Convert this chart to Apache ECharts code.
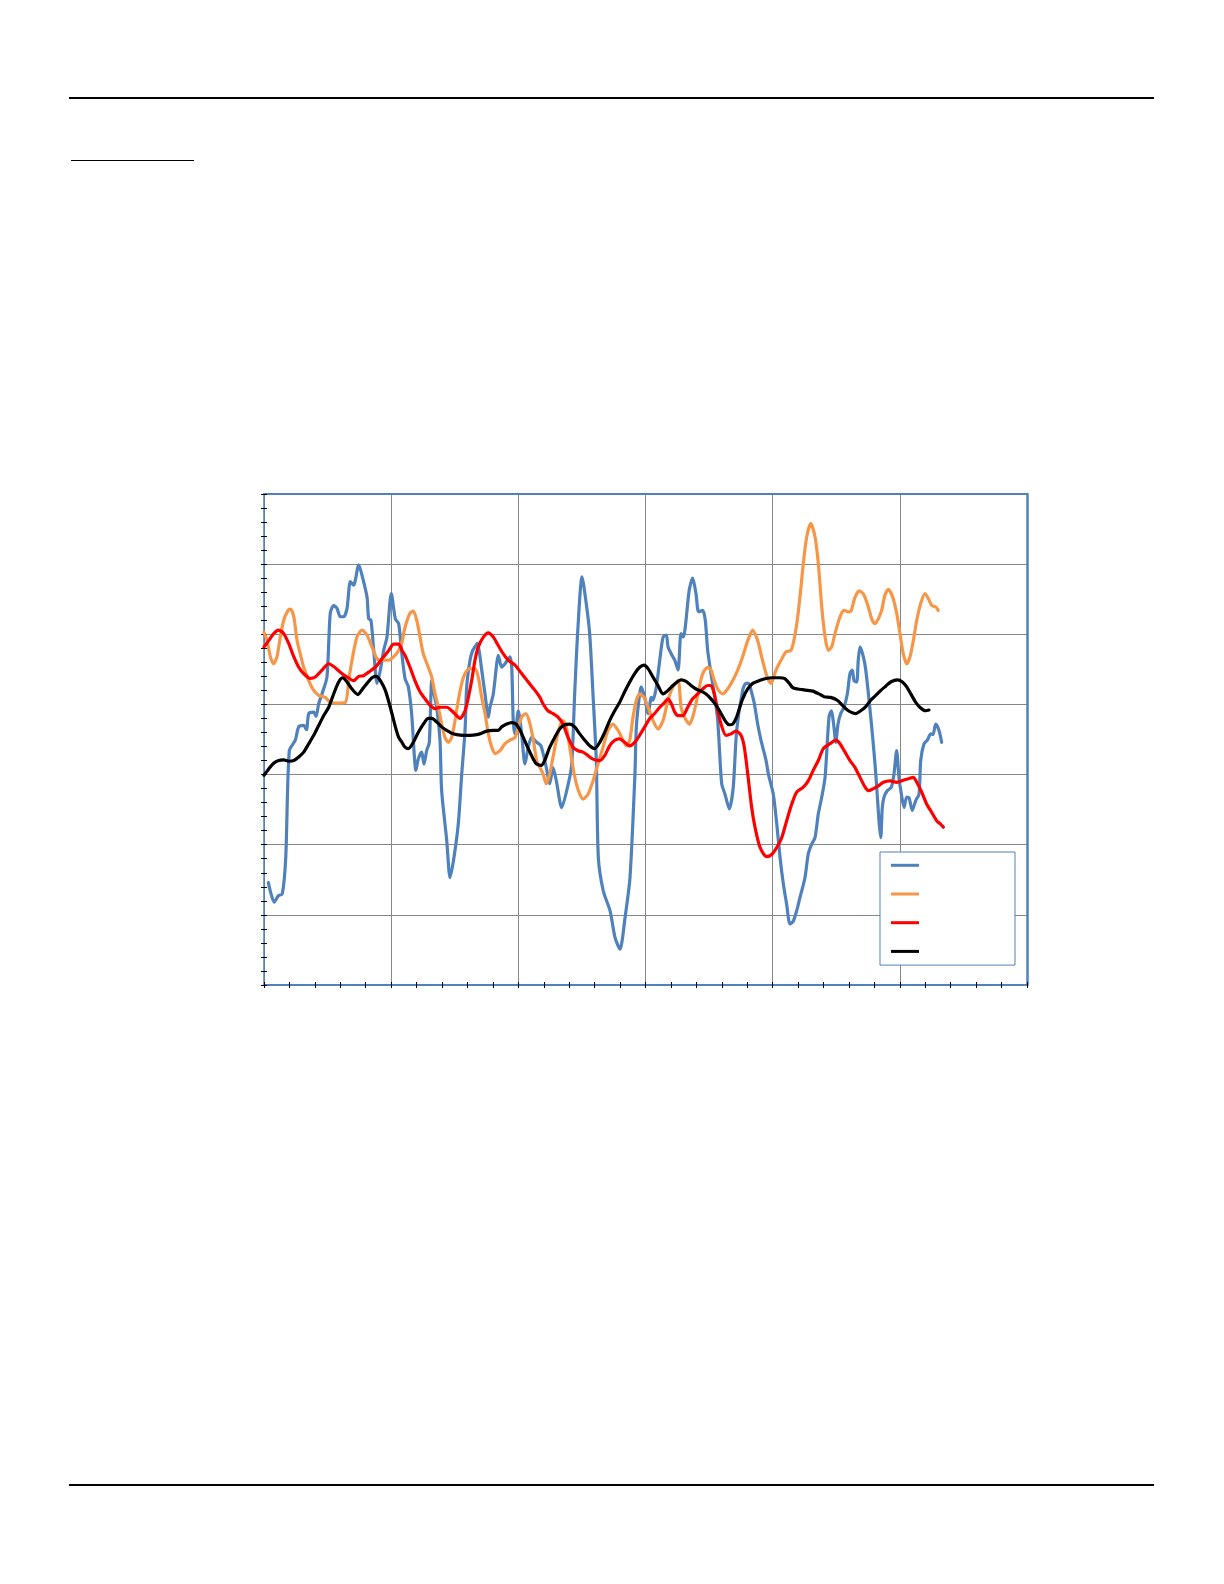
<!DOCTYPE html>
<html>
<head>
<meta charset="utf-8">
<script src="https://cdn.jsdelivr.net/npm/echarts/dist/echarts.min.js"></script>
<style>
html,body{margin:0;padding:0;background:#ffffff;}
#chart{width:1224px;height:1584px;}
</style>
</head>
<body>
<div id="chart"></div>
<script>
// ---- data (axis units: x 0..600, y 0..70) ----
const seriesNames = ['Series 1', 'Series 2', 'Series 3', 'Series 4'];
const seriesColors = ['#4F81BD', '#F79646', '#FF0000', '#000000'];

const blueData = [
[3.4,14.6],[8.1,11.8],[11.2,12.7],[14.4,13.0],[17.1,18.2],[19.9,33.4],[24.6,34.9],[27.3,36.8],[31.2,37.0],[33.4,36.4],
[35.2,38.7],[39.1,38.9],[40.9,38.3],[43.0,40.1],[45.6,41.5],[49.5,43.9],[52.1,53.0],[54.8,54.1],[57.4,53.7],[60.0,52.5],
[62.7,52.5],[65.3,53.7],[67.9,57.5],[70.5,57.0],[74.5,59.9],[77.1,58.4],[81.0,55.3],[82.3,52.2],[84.1,52.0],[86.3,47.7],
[88.9,43.0],[91.5,44.9],[94.1,47.7],[96.7,49.6],[100.1,55.8],[103.3,52.2],[105.9,51.5],[108.1,47.7],[110.9,43.7],[113.5,42.5],
[116.1,38.7],[119.5,30.6],[121.3,32.2],[124.0,33.2],[125.8,31.5],[127.9,33.4],[130.0,34.6],[131.9,43.4],[133.1,42.0],[135.8,39.6],
[138.4,34.9],[139.7,27.7],[143.7,20.6],[146.3,15.3],[149.4,18.2],[152.8,23.0],[155.5,30.1],[158.1,36.3],[159.4,42.5],[162.0,46.3],
[164.1,47.7],[165.9,48.2],[167.7,48.7],[169.3,47.5],[171.2,44.9],[173.8,41.5],[176.4,38.2],[177.7,39.6],[180.3,41.5],[183.0,45.8],
[184.2,47.0],[186.9,45.3],[189.5,45.8],[193.4,46.8],[194.8,45.3],[196.0,37.7],[197.4,35.8],[200.0,39.1],[202.6,35.8],[205.2,31.5],
[207.8,33.9],[210.5,35.3],[214.4,34.6],[217.8,34.1],[222.0,31.0],[224.7,28.7],[227.3,31.0],[229.9,29.1],[234.1,25.3],[239.3,28.7],
[242.0,31.5],[244.3,41.5],[246.9,51.0],[250.1,58.2],[253.4,54.4],[256.1,50.1],[258.7,41.5],[261.3,32.0],[262.9,18.2],[266.8,13.4],
[272.1,10.6],[276.0,6.8],[279.9,5.1],[283.9,9.6],[287.8,15.3],[291.7,30.1],[292.8,36.8],[295.4,41.5],[296.7,42.5],[299.4,41.0],
[302.0,38.7],[304.6,41.0],[305.9,40.6],[308.5,42.5],[311.2,46.3],[313.8,49.6],[316.4,49.9],[317.7,48.2],[320.3,47.2],[323.0,46.3],
[325.6,44.9],[327.9,50.1],[329.7,49.6],[334.4,56.3],[337.1,58.0],[339.7,55.8],[341.8,53.2],[345.0,53.4],[347.0,52.0],[348.9,47.7],
[351.5,44.4],[354.1,41.5],[356.8,37.7],[359.9,28.7],[362.5,27.2],[365.9,25.1],[369.0,28.2],[371.7,36.3],[376.4,42.0],[379.0,43.0],
[381.2,43.0],[383.0,42.0],[385.6,40.1],[388.2,37.2],[390.8,34.9],[394.8,32.0],[396.6,30.1],[400.5,27.2],[403.2,23.0],[405.8,18.2],
[408.4,14.4],[411.0,11.5],[413.6,8.7],[416.2,9.1],[418.9,10.6],[421.5,12.5],[425.4,15.3],[428.0,18.7],[430.7,20.1],[433.3,21.0],
[435.9,24.4],[438.6,26.8],[441.2,29.6],[444.3,38.2],[446.1,39.1],[448.2,36.8],[449.6,34.6],[451.4,37.2],[453.5,38.7],[456.1,39.6],
[458.7,41.5],[460.8,44.4],[462.6,44.9],[464.0,43.4],[466.1,43.2],[467.3,46.3],[468.7,48.2],[471.3,46.8],[473.2,44.9],[475.8,40.6],
[478.4,35.8],[481.1,30.1],[483.6,23.4],[485.0,21.0],[486.2,25.3],[487.6,26.8],[490.1,27.7],[493.3,28.2],[495.4,30.1],[497.5,33.4],
[499.3,29.6],[501.2,27.2],[503.3,25.3],[505.4,26.8],[507.2,26.7],[509.8,24.9],[512.5,26.3],[515.1,27.2],[516.4,32.0],[519.0,34.4],
[521.6,34.9],[524.3,35.8],[526.1,35.7],[528.2,37.2],[530.8,36.3],[532.9,34.6]
];

const orangeData = [
[0,50.3],[2.4,49.1],[5.0,46.8],[7.6,45.8],[10.2,46.8],[12.8,49.6],[15.5,52.0],[18.9,53.4],[20.8,53.6],[23.4,52.5],
[26.0,49.1],[28.5,47.2],[31.2,45.3],[35.2,43.4],[39.1,42.0],[43.0,41.3],[48.2,41.0],[52.1,40.3],[56.1,40.2],[63.9,40.3],
[66.6,43.4],[69.2,46.3],[73.1,49.6],[77.1,50.6],[81.0,49.9],[84.9,48.2],[88.9,46.5],[92.8,46.3],[98.1,46.3],[102.0,46.8],
[105.9,47.7],[108.5,48.9],[110.9,51.0],[114.8,53.0],[117.4,53.3],[120.1,52.0],[122.7,49.6],[125.3,47.2],[129.2,45.3],[131.9,43.9],
[134.5,41.5],[137.1,39.6],[139.7,37.2],[142.3,35.3],[144.9,34.6],[147.6,35.3],[150.2,37.7],[152.8,40.6],[155.5,43.0],[158.1,44.4],
[162.0,45.1],[165.9,45.1],[168.5,43.9],[171.2,41.0],[173.8,38.7],[176.4,35.8],[179.1,33.9],[181.7,33.0],[185.6,33.4],[189.5,34.4],
[193.4,34.9],[197.4,35.3],[200.0,36.8],[202.6,38.2],[206.0,38.7],[209.2,37.2],[211.8,34.9],[214.4,32.0],[217.0,31.0],[219.4,30.1],
[222.0,28.7],[224.7,30.1],[227.3,32.5],[229.9,34.9],[232.5,36.8],[235.1,37.7],[237.7,36.8],[240.4,33.9],[243.0,31.0],[245.6,28.7],
[248.3,27.2],[250.9,26.5],[254.8,27.2],[258.7,29.1],[262.6,31.5],[266.6,33.9],[270.5,36.3],[274.4,37.2],[278.4,36.3],[282.3,34.9],
[284.9,34.1],[287.6,34.9],[290.2,38.2],[292.8,40.6],[295.4,41.5],[298.8,41.0],[302.0,39.6],[305.9,37.7],[309.8,36.5],[313.8,37.7],
[317.7,40.6],[321.6,42.5],[325.6,43.4],[328.0,39.6],[330.6,38.2],[334.6,37.2],[337.1,38.2],[339.7,40.1],[342.4,42.5],[345.0,44.4],
[348.9,45.3],[351.5,44.9],[354.1,43.4],[356.8,42.2],[360.7,41.5],[364.6,42.2],[368.6,43.4],[372.5,44.9],[376.4,46.8],[380.4,49.1],
[384.3,50.6],[388.2,49.1],[390.8,47.2],[393.4,45.3],[396.1,43.7],[398.7,43.0],[402.6,44.9],[406.6,46.3],[410.5,47.5],[414.4,47.7],
[417.0,49.4],[419.7,52.5],[422.3,56.8],[424.1,60.1],[426.8,63.9],[429.9,65.8],[433.3,63.9],[435.9,60.1],[438.6,53.9],[441.2,49.6],
[443.8,47.7],[446.4,48.2],[449.0,50.1],[453.0,52.5],[456.1,53.4],[459.5,53.2],[461.6,53.3],[464.8,55.3],[468.2,56.2],[471.8,55.6],
[475.2,53.9],[477.9,52.2],[480.5,51.5],[483.1,52.2],[485.7,53.4],[488.3,55.6],[490.9,56.4],[494.4,55.3],[497.5,53.0],[500.1,50.1],
[502.7,47.2],[505.4,45.8],[508.0,46.8],[510.6,49.1],[513.3,52.0],[516.4,54.4],[519.8,55.8],[522.4,55.1],[525.1,54.1],[528.4,53.9],
[530.2,53.4]
];

const redData = [
[0,48.2],[3.7,49.1],[7.6,50.1],[11.6,50.6],[15.5,50.1],[19.4,48.7],[23.4,46.8],[27.3,45.3],[31.2,44.4],[36.4,43.7],
[40.3,43.9],[45.6,44.9],[50.9,45.8],[54.8,45.4],[60.0,44.6],[65.3,43.9],[70.5,43.4],[74.5,44.0],[78.4,44.1],[82.3,44.6],
[87.5,45.3],[92.8,46.5],[98.1,47.7],[102.0,48.6],[105.9,48.6],[108.5,47.7],[110.9,47.0],[114.8,45.3],[118.7,43.4],[122.7,41.8],
[126.6,40.8],[130.5,39.9],[134.5,39.4],[138.4,39.6],[143.7,39.6],[147.6,39.1],[151.5,38.4],[154.1,38.0],[158.1,39.1],[160.7,41.0],
[163.3,43.4],[165.9,46.3],[168.5,48.2],[172.5,49.6],[176.4,50.2],[180.3,49.6],[184.2,48.4],[188.2,47.2],[192.1,46.3],[197.4,45.6],
[202.6,44.4],[207.8,43.2],[213.1,42.0],[217.0,41.0],[219.4,40.1],[223.3,39.1],[227.3,38.7],[231.2,38.2],[235.1,37.2],[239.1,35.3],
[243.0,33.9],[246.9,33.4],[250.9,33.2],[254.8,32.7],[258.7,32.2],[264.0,32.0],[267.9,32.7],[271.8,34.1],[275.8,34.9],[279.7,35.1],
[283.6,34.6],[287.6,34.1],[291.5,34.6],[295.4,35.6],[299.4,36.8],[303.3,38.0],[307.2,38.7],[311.2,39.6],[315.1,40.3],[317.7,40.8],
[320.3,40.1],[323.0,38.9],[325.6,38.4],[329.3,38.4],[333.2,39.6],[337.1,40.8],[341.1,41.5],[345.0,42.2],[348.9,42.7],[351.5,42.7],
[354.1,41.5],[356.8,39.1],[359.4,37.2],[363.3,35.6],[367.2,35.8],[371.2,36.2],[375.1,35.6],[377.7,33.9],[380.4,30.1],[383.5,25.3],
[386.1,22.5],[390.1,19.6],[395.3,18.3],[399.2,18.6],[403.2,19.6],[407.1,21.0],[411.0,23.4],[415.0,25.8],[418.9,27.5],[424.1,28.2],
[428.0,29.1],[431.9,30.6],[435.9,32.0],[439.8,33.7],[445.1,34.4],[449.8,34.9],[452.9,34.4],[456.9,33.2],[460.8,32.0],[464.8,31.0],
[468.7,29.6],[472.7,28.2],[475.3,27.7],[479.2,28.0],[483.1,28.4],[487.1,28.9],[492.3,29.1],[497.5,28.9],[502.7,29.2],[506.7,29.4],
[510.6,29.6],[513.3,28.9],[517.2,27.5],[521.1,25.8],[525.1,24.6],[529.0,23.4],[531.6,23.0],[534.2,22.5]
];

const blackData = [
[0,29.9],[3.7,30.8],[7.6,31.6],[11.6,32.0],[15.5,32.1],[19.4,31.9],[23.4,32.0],[27.3,32.5],[31.2,33.2],[35.2,34.4],
[39.1,35.6],[43.0,37.0],[46.9,38.4],[50.9,39.6],[54.8,41.5],[58.7,43.2],[61.9,43.8],[65.3,43.2],[69.2,42.2],[73.9,41.4],
[77.1,42.1],[81.0,43.0],[84.9,43.8],[88.1,44.0],[91.5,43.4],[95.4,42.0],[99.3,39.6],[103.3,36.8],[105.9,35.3],[108.5,34.6],
[110.9,33.9],[113.5,33.7],[117.4,34.6],[121.3,36.0],[125.3,37.2],[129.2,38.0],[131.9,38.0],[135.8,37.5],[139.7,36.8],[143.7,36.3],
[147.6,35.9],[151.5,35.7],[156.7,35.6],[162.0,35.6],[167.3,35.7],[171.2,35.9],[175.1,36.2],[180.3,36.3],[184.2,36.3],[186.9,36.8],
[190.9,37.2],[194.8,37.4],[198.2,37.2],[200.8,36.5],[203.9,35.3],[207.8,33.7],[211.8,32.2],[214.4,31.5],[218.1,31.3],[220.7,32.0],
[224.7,33.9],[228.6,35.3],[232.5,36.5],[236.5,37.1],[240.4,37.2],[244.3,36.8],[248.3,35.8],[252.2,34.9],[256.1,34.1],[260.1,33.7],
[264.0,34.6],[267.9,36.0],[271.8,37.7],[275.8,39.1],[279.7,40.3],[283.6,41.8],[287.6,43.2],[291.5,44.4],[295.4,45.3],[298.8,45.6],
[302.0,45.1],[305.9,43.9],[309.8,42.7],[313.8,41.5],[317.7,42.0],[321.6,42.7],[325.6,43.3],[328.0,43.5],[331.9,43.3],[335.8,42.7],
[339.7,42.2],[343.7,41.9],[347.6,41.5],[351.5,40.8],[355.5,39.9],[359.4,38.7],[363.3,37.5],[365.9,37.1],[368.6,37.2],[371.2,38.0],
[373.8,39.4],[376.4,40.8],[380.4,42.2],[384.3,43.0],[389.5,43.4],[394.8,43.7],[400.0,43.8],[405.2,43.8],[409.2,43.7],[413.1,43.0],
[415.7,42.4],[419.7,42.2],[423.6,42.1],[427.6,42.0],[431.5,41.9],[436.4,41.5],[440.4,41.1],[445.6,41.0],[450.8,40.6],[454.7,39.9],
[458.7,39.2],[462.6,38.8],[465.3,38.7],[469.2,39.1],[473.2,39.7],[477.1,40.6],[481.1,41.3],[485.0,42.0],[488.9,42.6],[492.8,43.2],
[498.1,43.5],[502.0,43.2],[505.4,42.5],[508.6,41.5],[512.5,40.3],[516.4,39.5],[520.3,39.1],[522.9,39.2]
];

const allData = [blueData, orangeData, redData, blackData];

// ---- chart ----
const chart = echarts.init(document.getElementById('chart'), null, {renderer: 'canvas'});
const AXIS_BLUE = '#4F81BD';
const GRID_GRAY = '#878787';

function tickAxisX(inside) {
  return {
    type: 'value', min: 0, max: 600, interval: 100, position: 'bottom',
    axisLine: {show: false, onZero: false},
    axisTick: {show: true, inside: inside, length: 3, lineStyle: {color: '#000', width: 1}},
    minorTick: {show: true, splitNumber: 5, length: 3, lineStyle: {color: '#000', width: 1}},
    axisLabel: {show: false}, splitLine: {show: false}
  };
}
function tickAxisY(inside) {
  return {
    type: 'value', min: 0, max: 70, interval: 10, position: 'left',
    axisLine: {show: false, onZero: false},
    axisTick: {show: true, inside: inside, length: 3, lineStyle: {color: '#000', width: 1}},
    minorTick: {show: true, splitNumber: 5, length: 3, lineStyle: {color: '#000', width: 1}},
    axisLabel: {show: false}, splitLine: {show: false}
  };
}

const option = {
  animation: false,
  backgroundColor: '#ffffff',
  color: seriesColors,
  grid: {left: 264, top: 494, width: 763, height: 491, containLabel: false},
  xAxis: [
    {
      type: 'value', min: 0, max: 600, interval: 100, position: 'bottom',
      axisLine: {show: true, onZero: false, lineStyle: {color: AXIS_BLUE, width: 2}},
      axisTick: {show: true, length: 3, lineStyle: {color: '#000', width: 1}},
      minorTick: {show: true, splitNumber: 5, length: 3, lineStyle: {color: '#000', width: 1}},
      axisLabel: {show: false},
      splitLine: {show: true, lineStyle: {color: GRID_GRAY, width: 1}}
    },
    {
      type: 'value', min: 0, max: 600, interval: 100, position: 'top',
      axisLine: {show: true, onZero: false, lineStyle: {color: AXIS_BLUE, width: 2}},
      axisTick: {show: false}, axisLabel: {show: false}, splitLine: {show: false}
    },
    tickAxisX(true)
  ],
  yAxis: [
    {
      type: 'value', min: 0, max: 70, interval: 10, position: 'left',
      axisLine: {show: true, onZero: false, lineStyle: {color: AXIS_BLUE, width: 1.5}},
      axisTick: {show: true, length: 3, lineStyle: {color: '#000', width: 1}},
      minorTick: {show: true, splitNumber: 5, length: 3, lineStyle: {color: '#000', width: 1}},
      axisLabel: {show: false},
      splitLine: {show: true, lineStyle: {color: GRID_GRAY, width: 1}}
    },
    {
      type: 'value', min: 0, max: 70, interval: 10, position: 'right',
      axisLine: {show: true, onZero: false, lineStyle: {color: AXIS_BLUE, width: 2.5}},
      axisTick: {show: false}, axisLabel: {show: false}, splitLine: {show: false}
    },
    tickAxisY(true)
  ],
  legend: {
    show: true,
    orient: 'vertical',
    left: 880, top: 852,
    padding: [11.8, 91, 12.2, 11],
    itemWidth: 28, itemHeight: 3, itemGap: 25.7,
    icon: 'rect',
    formatter: function () { return ''; },
    textStyle: {fontSize: 1, lineHeight: 3},
    backgroundColor: '#ffffff',
    borderColor: AXIS_BLUE, borderWidth: 1, borderRadius: 0,
    selectedMode: false,
    data: seriesNames
  },
  graphic: [
    {type: 'line', shape: {x1: 69, y1: 98, x2: 1154, y2: 98}, style: {stroke: '#000', lineWidth: 2}},
    {type: 'line', shape: {x1: 71, y1: 160.5, x2: 194, y2: 160.5}, style: {stroke: '#000', lineWidth: 1}},
    {type: 'line', shape: {x1: 69, y1: 1485, x2: 1154, y2: 1485}, style: {stroke: '#000', lineWidth: 2}}
  ],
  series: seriesNames.map(function (name, i) {
    return {
      name: name,
      type: 'line',
      xAxisIndex: 0, yAxisIndex: 0,
      data: allData[i],
      showSymbol: false, symbol: 'none',
      smooth: 0.25,
      itemStyle: {color: seriesColors[i]},
      lineStyle: {color: seriesColors[i], width: 3.2, join: 'round', cap: 'round'},
      z: 2 + i
    };
  })
};
chart.setOption(option);
</script>
</body>
</html>
